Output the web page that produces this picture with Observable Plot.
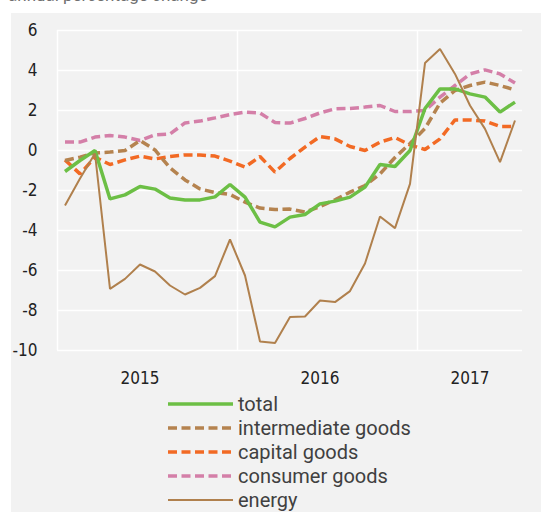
<!DOCTYPE html>
<html>
<head>
<meta charset="utf-8">
<script src="https://cdn.jsdelivr.net/npm/d3@7"></script>
<script src="https://cdn.jsdelivr.net/npm/@observablehq/plot@0.6"></script>
<style>
  body { margin: 0; background: #fff; }
  #wrap { position: relative; width: 541px; height: 512px; overflow: hidden; background: #fff; font-family: Roboto, "Open Sans", sans-serif; }
  #title { position: absolute; left: 8px; top: -15px; font-size: 17px; color: #707070; white-space: nowrap; }
  #panel { position: absolute; left: 11px; top: 13px; width: 530px; height: 499px; background: #f2f2f2; }
  #chart { position: absolute; left: 0; top: 0; }
  #legend { position: absolute; left: 157px; top: 379px; }
  .row { display: flex; align-items: center; height: 24px; }
  .row svg { display: block; margin-right: 5px; }
  .row span { font-size: 20px; color: #404040; line-height: 24px; }
  #chart text { font-stretch: condensed; }
</style>
</head>
<body>
<div id="wrap">
  <div id="title">annual percentage change</div>
  <div id="panel">
    <div id="chart"></div>
    <div id="legend"></div>
  </div>
</div>
<script>
// Monthly observations, Jan 2015 – Jul 2017
const months = ["2015-01","2015-02","2015-03","2015-04","2015-05","2015-06","2015-07","2015-08","2015-09","2015-10","2015-11","2015-12",
  "2016-01","2016-02","2016-03","2016-04","2016-05","2016-06","2016-07","2016-08","2016-09","2016-10","2016-11","2016-12",
  "2017-01","2017-02","2017-03","2017-04","2017-05","2017-06","2017-07"];
const total = [-1.05, -0.5, 0.0, -2.42, -2.22, -1.8, -1.93, -2.37, -2.47, -2.47, -2.32, -1.7, -2.33, -3.58, -3.82, -3.33, -3.2, -2.67, -2.53, -2.33, -1.83, -0.7, -0.8, 0.0, 2.1, 3.08, 3.08, 2.83, 2.67, 1.92, 2.42];
const intermediate = [-0.5, -0.33, -0.12, -0.08, 0.0, 0.5, 0.03, -0.87, -1.47, -1.92, -2.1, -2.2, -2.58, -2.88, -2.95, -2.93, -3.08, -2.8, -2.47, -2.08, -1.75, -1.17, -0.35, 0.35, 1.1, 2.37, 3.0, 3.25, 3.42, 3.25, 3.03];
const capital = [-0.47, -1.17, -0.33, -0.7, -0.47, -0.28, -0.42, -0.3, -0.22, -0.22, -0.28, -0.53, -0.83, -0.3, -1.08, -0.4, 0.17, 0.7, 0.58, 0.2, 0.0, 0.42, 0.65, 0.28, 0.05, 0.58, 1.53, 1.53, 1.47, 1.2, 1.2];
const consumer = [0.42, 0.42, 0.67, 0.75, 0.67, 0.5, 0.78, 0.83, 1.38, 1.47, 1.63, 1.8, 1.92, 1.87, 1.4, 1.37, 1.6, 1.88, 2.08, 2.1, 2.17, 2.25, 1.95, 1.95, 2.0, 2.67, 3.25, 3.83, 4.03, 3.83, 3.37];
const energy = [-2.75, -1.4, -0.15, -6.92, -6.42, -5.7, -6.05, -6.75, -7.2, -6.87, -6.28, -4.45, -6.25, -9.55, -9.62, -8.33, -8.3, -7.5, -7.58, -7.03, -5.65, -3.3, -3.88, -1.67, 4.37, 5.08, 3.83, 2.25, 1.08, -0.58, 1.5];

const yTicks = [-10, -8, -6, -4, -2, 0, 2, 4, 6];
const yearLabels = ["2015", "2016", "2017"];
const yearLabelMonths = ["2015-06", "2016-06", "2017-04"];
const yearStartMonths = ["2015-01", "2016-01", "2017-01"];

const xEnd = months.length;
const mIndex = m => months.indexOf(m);

const series = [
  {name: "consumer goods", values: consumer, color: "#d47fa8", width: 3.5, dash: "9,4.5"},
  {name: "capital goods", values: capital, color: "#f26a24", width: 3.5, dash: "9,4.5"},
  {name: "intermediate goods", values: intermediate, color: "#b5834f", width: 3.5, dash: "9,4.5"},
  {name: "total", values: total, color: "#6cbf45", width: 3.5, dash: null},
  {name: "energy", values: energy, color: "#b0804d", width: 2, dash: null}
];
const legendOrder = ["total", "intermediate goods", "capital goods", "consumer goods", "energy"];

// each month plotted at its middle
const rows = s => s.values.map((v, i) => ({x: i + 0.5, y: v, month: months[i]}));
const yearLabelPos = yearLabelMonths.map(m => mIndex(m) + 0.5);
const yearStarts = yearStartMonths.map(mIndex);

const marks = [
  Plot.ruleY(yTicks, {x1: 0, x2: xEnd, stroke: "#fff", strokeWidth: 1.5}),
  Plot.ruleX(yearStarts, {y1: -10, y2: 6, stroke: "#fff", strokeWidth: 1.5}),
  Plot.axisY(yTicks, {label: null, tickSize: 0, tickPadding: 20, tickFormat: d => d < 0 ? "-" + Math.abs(d) : String(d), fontSize: 17, fill: "#222"}),
  Plot.axisX(yearLabelPos, {label: null, tickSize: 0, tickPadding: 21, tickFormat: (d, i) => yearLabels[i], fontSize: 17, fill: "#222"})
];
for (const s of series) {
  marks.push(Plot.line(rows(s), {x: "x", y: "y", stroke: s.color, strokeWidth: s.width, strokeDasharray: s.dash || undefined, strokeLinejoin: "miter", strokeLinecap: "butt"}));
}

const chart = Plot.plot({
  width: 530,
  height: 380,
  marginLeft: 46,
  marginRight: 19,
  marginTop: 17,
  marginBottom: 43,
  style: {background: "transparent", fontFamily: "'DejaVu Sans', sans-serif", fontSize: "17px", color: "#222"},
  x: {domain: [0, xEnd], axis: null},
  y: {domain: [-10, 6], axis: null},
  marks
});
document.getElementById("chart").appendChild(chart);

const legend = document.getElementById("legend");
for (const name of legendOrder) {
  const s = series.find(d => d.name === name);
  const row = document.createElement("div");
  row.className = "row";
  const ns = "http://www.w3.org/2000/svg";
  const sw = document.createElementNS(ns, "svg");
  sw.setAttribute("width", 65); sw.setAttribute("height", 24);
  const ln = document.createElementNS(ns, "line");
  ln.setAttribute("x1", 0); ln.setAttribute("x2", 65); ln.setAttribute("y1", 12); ln.setAttribute("y2", 12);
  ln.setAttribute("stroke", s.color); ln.setAttribute("stroke-width", s.width);
  if (s.dash) ln.setAttribute("stroke-dasharray", s.dash);
  sw.appendChild(ln);
  const t = document.createElement("span");
  t.textContent = name;
  row.appendChild(sw); row.appendChild(t);
  legend.appendChild(row);
}
</script>
</body>
</html>
